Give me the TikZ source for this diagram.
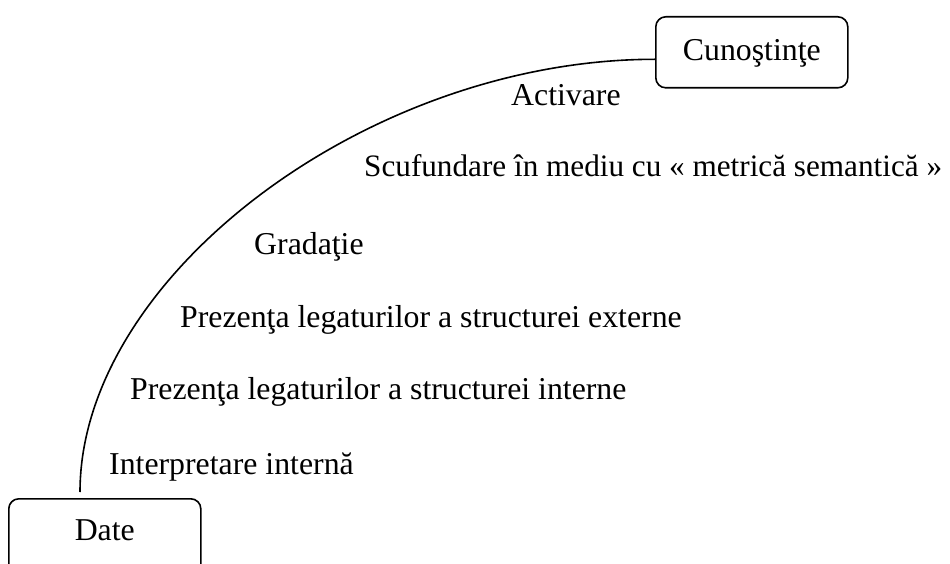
\documentclass[tikz,border=0pt]{standalone}
\usepackage{fontspec}
\setmainfont{Liberation Serif}
\usetikzlibrary{calc}
\begin{document}
\begin{tikzpicture}[x=1pt,y=1pt,
  box/.style={draw, line width=1.6pt, rounded corners=10pt, inner sep=0pt, font=\fontsize{31.8}{38}\selectfont},
  lbl/.style={anchor=base west, inner sep=0pt, font=\fontsize{31.8}{38}\selectfont},
  link/.style={line width=1.6pt}]
\useasboundingbox (0,0) rectangle (950,-564);
\clip (0,0) rectangle (950,-564);
\node[box, anchor=north west, minimum width=192pt, text height=42pt, text depth=60pt] (date) at (8,-498) {Date};
\node[box, anchor=north west, minimum width=192pt, text height=44pt, text depth=27pt] (cun) at (655,-16) {Cunoştinţe};
\coordinate (s) at ([xshift=72pt,yshift=6pt]date.north west);
\coordinate (e) at ([yshift=-7pt]cun.west);
\draw[link] (s) .. controls +(0,215) and +(-287,0) .. (e);
\node[lbl] (l1) at (109,-474) {Interpretare internă};
\node[lbl] (l2) at (130,-399) {Prezenţa legaturilor a structurei interne};
\node[lbl] (l3) at (180,-327) {Prezenţa legaturilor a structurei externe};
\node[lbl] (l4) at (254,-254) {Gradaţie};
\node[lbl, font=\fontsize{31.2}{38}\selectfont] (l5) at (364,-177) {Scufundare în mediu cu « metrică semantică »};
\node[lbl] (l6) at (511,-106) {Activare};
\end{tikzpicture}
\end{document}
